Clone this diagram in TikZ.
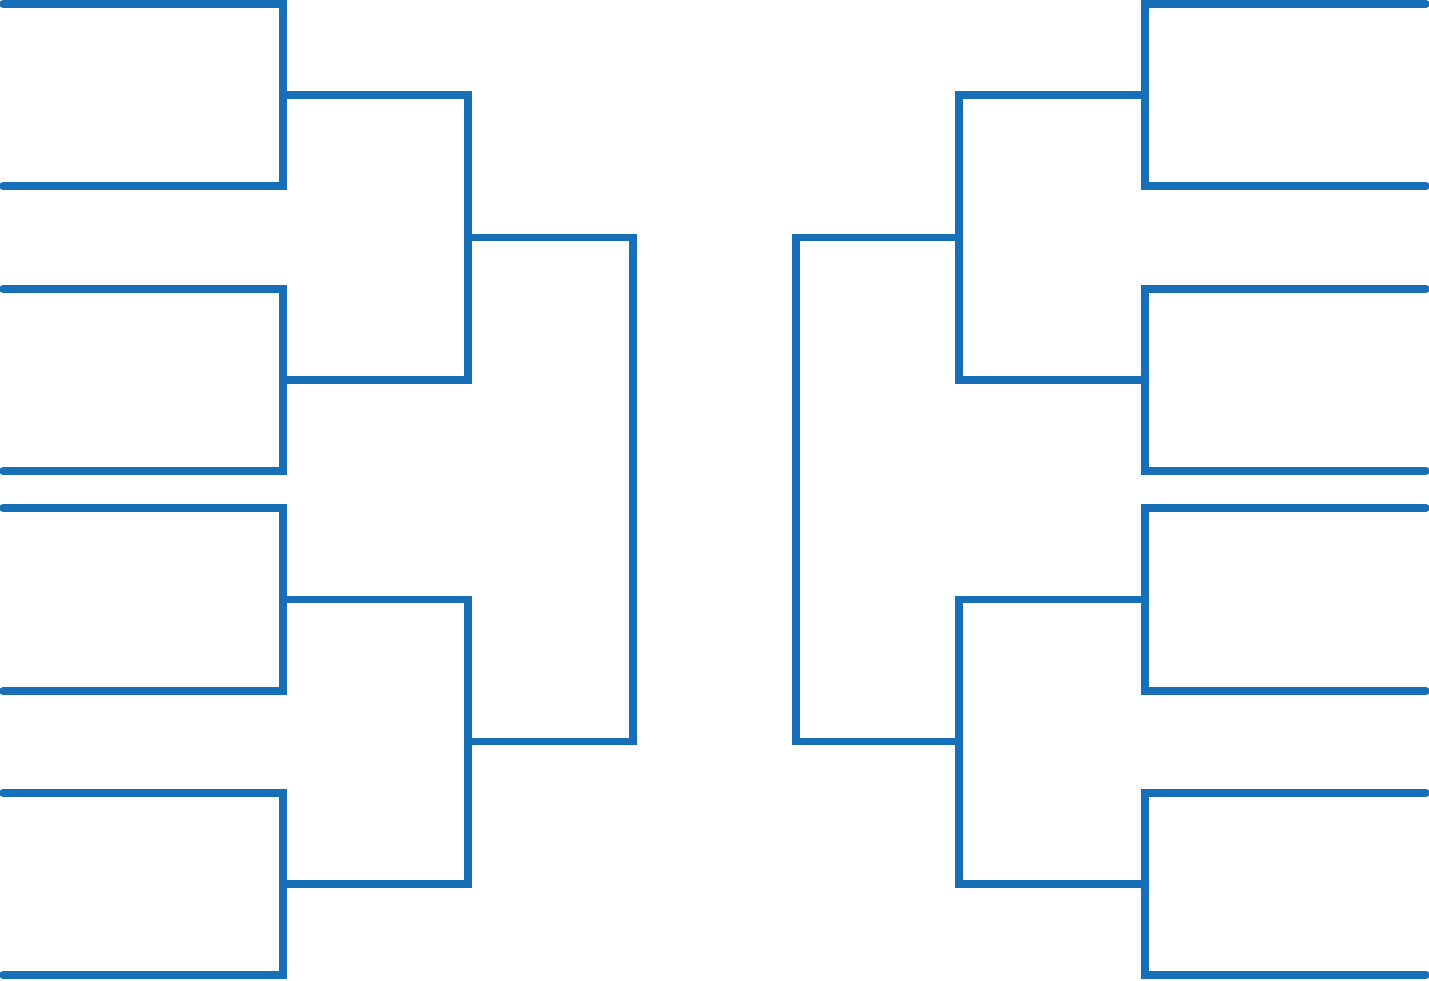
\documentclass[tikz,border=0pt]{standalone}
\usepackage{tikz}
\definecolor{bracketblue}{RGB}{23,111,184}
\tikzset{
        bracket/.style={draw=bracketblue, line width=3.7pt, line cap=round, line join=miter},
    }
\begin{document}
\begin{tikzpicture}[x=0.5pt,y=-0.5pt]
\useasboundingbox (0,0) rectangle (1429,980);
% first round, both halves
\foreach \a/\b in {4/186,289/471,508/691,793/975} {
 \draw[bracket] (3,\a) -| (283,\b) -- (3,\b);
 \draw[bracket] (1426,\a) -| (1145,\b) -- (1426,\b);
}
% second round
\draw[bracket] (283,95) -| (468,380) -- (283,380);
\draw[bracket] (283,599.5) -| (468,884) -- (283,884);
\draw[bracket] (1145,95) -| (959,380) -- (1145,380);
\draw[bracket] (1145,599.5) -| (959,884) -- (1145,884);
% semi finals
\draw[bracket] (468,237.5) -| (633,741.5) -- (468,741.5);
\draw[bracket] (959,237.5) -| (796,741.5) -- (959,741.5);
\end{tikzpicture}
\end{document}
